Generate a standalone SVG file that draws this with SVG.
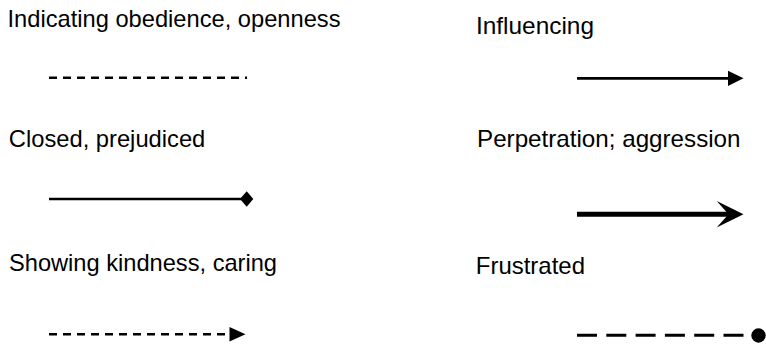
<svg xmlns="http://www.w3.org/2000/svg" width="766" height="347" viewBox="0 0 766 347">
<style>
  .lbl { font-family: "Liberation Sans", Arial, sans-serif; font-size: 23.4px; fill: #000; }
  .ln { stroke: #000; fill: none; stroke-linecap: butt; }
  .thin { stroke-width: 2.7; }
  .dash { stroke-width: 2.6; stroke-dasharray: 8 6; }
  .ldash { stroke-width: 3; stroke-dasharray: 20 9.3; }
  .thick { stroke-width: 5; }
  .head { fill: #000; stroke: none; }
</style>
<rect width="766" height="347" fill="#fff"/>
<g id="obedience">
  <text class="lbl" x="7.5" y="27" textLength="333" lengthAdjust="spacingAndGlyphs">Indicating obedience, openness</text>
</g>
<g id="influencing">
  <text class="lbl" x="476" y="34" textLength="118" lengthAdjust="spacingAndGlyphs">Influencing</text>
</g>
<g id="closed">
  <text class="lbl" x="8.8" y="146.5" textLength="196.5" lengthAdjust="spacingAndGlyphs">Closed, prejudiced</text>
</g>
<g id="perpetration">
  <text class="lbl" x="477" y="146.5" textLength="263.5" lengthAdjust="spacingAndGlyphs">Perpetration; aggression</text>
</g>
<g id="kindness">
  <text class="lbl" x="9" y="271" textLength="268" lengthAdjust="spacingAndGlyphs">Showing kindness, caring</text>
</g>
<g id="frustrated">
  <text class="lbl" x="475.8" y="274" textLength="109.2" lengthAdjust="spacingAndGlyphs">Frustrated</text>
</g>
<g id="connectors">
  <line class="ln dash" x1="49" y1="77.7" x2="247" y2="77.7"/>
  <line class="ln thin" x1="49" y1="199" x2="242" y2="199"/>
  <polygon class="head" points="240,199 246.7,191.2 253.3,199 246.7,206.8"/>
  <line class="ln dash" x1="49" y1="334.3" x2="232" y2="334.3"/>
  <polygon class="head" points="229.5,327 245.5,334.3 229.5,341.6"/>
  <line class="ln thin" x1="577" y1="78.3" x2="730" y2="78.3"/>
  <polygon class="head" points="728,70.7 743.5,78.3 728,86"/>
  <line class="ln thick" x1="577" y1="214.3" x2="730" y2="214.3"/>
  <polygon class="head" points="716.7,201 743.5,214.3 716.7,227.5 728.5,214.3"/>
  <line class="ln ldash" x1="577" y1="335.3" x2="744" y2="335.3"/>
  <circle class="head" cx="758.5" cy="335.5" r="7.2"/>
</g>
</svg>
